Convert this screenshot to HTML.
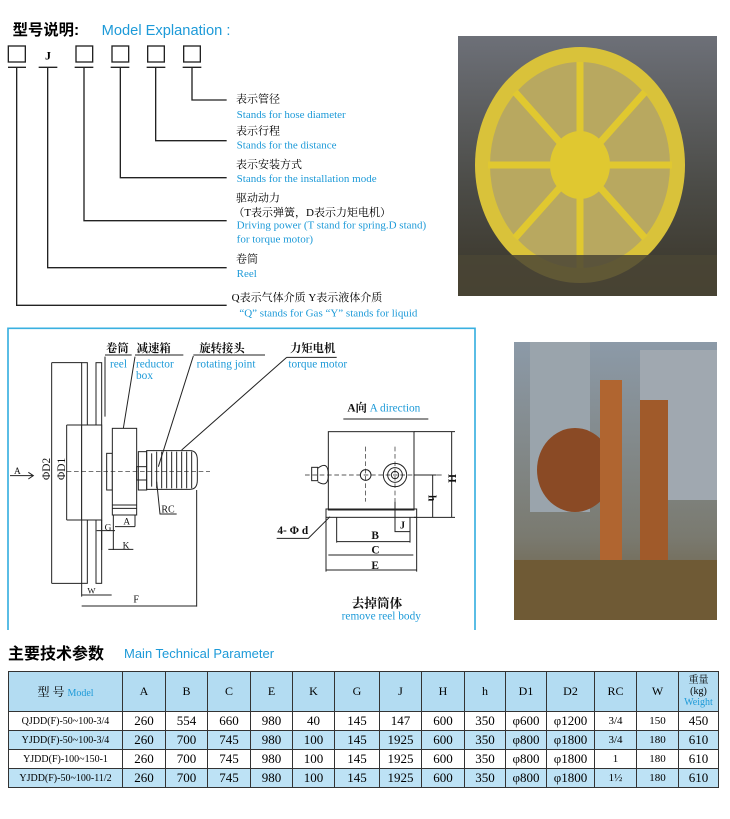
<!DOCTYPE html>
<html><head><meta charset="utf-8"><style>
body{margin:0;width:730px;height:819px;background:#fff;position:relative;overflow:hidden;font-family:"Liberation Serif","Noto Serif CJK SC",serif}
svg{position:absolute;left:0;top:0}
table{position:absolute;left:8px;top:671px;border-collapse:collapse;table-layout:fixed;font-family:"Liberation Serif","Noto Serif CJK SC",serif;font-size:13px}
td{border:1.5px solid #333;text-align:center;padding:0;height:18px;white-space:nowrap}
tr.h td{height:39px;background:#b3dcf2;font-size:12px}
tr.b td{background:#bde2f5}
.bl{color:#1d9ad8}
</style></head><body>
<svg width="730" height="819">
<defs>
<linearGradient id="g1" x1="0" y1="0" x2="0" y2="1"><stop offset="0" stop-color="#6d7078"/><stop offset=".6" stop-color="#4a4a45"/><stop offset="1" stop-color="#3a3528"/></linearGradient>
<linearGradient id="g2" x1="0" y1="0" x2="0" y2="1"><stop offset="0" stop-color="#8c9aa8"/><stop offset=".7" stop-color="#7a7a70"/><stop offset="1" stop-color="#6a5a3a"/></linearGradient>
</defs>
<rect x="458" y="36" width="259" height="260" fill="url(#g1)"/>
<ellipse cx="580" cy="165" rx="105" ry="118" fill="#d9c23a"/>
<ellipse cx="580" cy="165" rx="90" ry="103" fill="#b8a860"/>
<g stroke="#e0c830" stroke-width="7"><path d="M580 62V268M488 165H672M515 92L645 238M645 92L515 238"/></g>
<ellipse cx="580" cy="165" rx="30" ry="34" fill="#e0c830"/>
<rect x="458" y="255" width="259" height="41" fill="#4a4535" opacity=".85"/>
<rect x="514" y="342" width="203" height="278" fill="url(#g2)"/>
<rect x="530" y="342" width="60" height="170" fill="#9aa4ac"/>
<rect x="640" y="350" width="77" height="150" fill="#a0a8b0"/>
<ellipse cx="575" cy="470" rx="38" ry="42" fill="#8a4a25"/>
<rect x="600" y="380" width="22" height="220" fill="#b06530"/>
<rect x="640" y="400" width="28" height="160" fill="#a05a2a"/>
<rect x="514" y="560" width="203" height="60" fill="#6f5a35"/>

<svg x="0" y="10" width="460" height="320" viewBox="0 0 1380 960">
<text x="38" y="75" font-size="46" font-weight="bold" font-family="Liberation Sans,Noto Sans CJK SC,sans-serif">型号说明:</text>
<text x="305" y="75" font-size="44" fill="#1d9ad8" font-family="Liberation Sans,sans-serif">Model Explanation :</text>
<g fill="none" stroke="#222" stroke-width="4">
<rect x="25" y="108" width="51" height="48"/><rect x="228" y="108" width="50" height="48"/><rect x="336" y="108" width="50" height="48"/><rect x="443" y="108" width="50" height="48"/><rect x="551" y="108" width="50" height="48"/>
<path d="M24 172H78M116 172H172M224 172H280M332 172H388M440 172H496M548 172H604"/>
<path d="M50 172V886H680M143 172V773H680M252 172V632H680M361 172V503H680M467 172V392H680M576 172V270H680"/>
</g>
<text x="135" y="148" font-size="36" font-weight="bold">J</text>
<g font-size="33">
<text x="708" y="277">表示管径</text>
<text x="710" y="324" fill="#1d9ad8">Stands for hose diameter</text>
<text x="708" y="374">表示行程</text>
<text x="710" y="415" fill="#1d9ad8">Stands for the distance</text>
<text x="708" y="474">表示安装方式</text>
<text x="710" y="516" fill="#1d9ad8">Stands for the installation mode</text>
<text x="708" y="574">驱动动力</text>
<text x="700" y="618">（T表示弹簧，D表示力矩电机）</text>
<text x="710" y="656" fill="#1d9ad8">Driving power (T stand for spring.D stand)</text>
<text x="710" y="698" fill="#1d9ad8">for torque motor)</text>
<text x="708" y="757">卷筒</text>
<text x="710" y="801" fill="#1d9ad8">Reel</text>
<text x="695" y="873">Q表示气体介质  Y表示液体介质</text>
<text x="718" y="919" fill="#1d9ad8">“Q”  stands for Gas  “Y”  stands for liquid</text>
</g>
</svg>

<svg x="0" y="320" width="500" height="310" viewBox="0 0 1500 930">
<path d="M24 960V25H1425V960" fill="none" stroke="#3ab0e0" stroke-width="5"/>
<g fill="none" stroke="#222" stroke-width="3">
<rect x="245" y="128" width="17" height="662"/><rect x="288" y="128" width="17" height="662"/>
<rect x="245" y="315" width="60" height="285" fill="#fff"/>
<path d="M155 128H245M155 790H245M155 128V790M200 315H245M200 600H245M200 315V600"/>
<rect x="320" y="400" width="17" height="110"/>
<rect x="337" y="325" width="73" height="260" fill="#fff"/>
<path d="M337 555H410M337 565H410"/>
<rect x="410" y="440" width="75" height="40"/>
<path d="M440 392H570Q592 392 592 420V480Q592 508 570 508H440Z" fill="#fff"/>
<path d="M455 400V500M470 395V505M485 395V505M500 395V505M515 395V505M530 395V505M545 395V505M560 395V505M575 395V505"/>
<rect x="415" y="395" width="25" height="115"/>
<path d="M30 467H98M85 457L100 467L85 477"/>
<path d="M315 110V290M315 105H395M405 105H550M405 110L370 325M580 105H795M580 108L475 440M860 112H1010M860 112L545 390M470 485L480 582H530"/>
<path d="M305 600V690M340 585V690M290 632H345M345 620H405M405 585V620M325 688H400M245 790V830M245 825H335M245 858H590M590 510V860"/>
<path d="M1030 297H1285"/>
<rect x="985" y="335" width="257" height="235"/>
<rect x="978" y="567" width="272" height="25"/>
<path d="M978 592V755M1250 592V755M1010 592V668M1230 592V668M1010 665H1230M985 705H1240M978 750H1250"/>
<rect x="935" y="442" width="18" height="40"/><path d="M953 445Q985 420 985 465Q985 505 953 485"/>
<circle cx="1097" cy="465" r="16"/><circle cx="1185" cy="465" r="35"/><circle cx="1185" cy="465" r="22"/><circle cx="1185" cy="465" r="11"/>
<path d="M1242 335H1365M1242 592H1365M1355 335V592M1242 465H1310M1298 465V592M1185 545V635H1230M830 655H925L990 590"/>
</g>
<g stroke="#222" stroke-width="2" stroke-dasharray="14,8" fill="none">
<path d="M200 455H630M915 465H1330M1097 380V545M1185 380V545"/>
</g>
<g font-size="34" fill="#111">
<text x="42" y="462" font-size="28">A</text>
<text x="150" y="480" transform="rotate(-90 150 480)">ΦD2</text>
<text x="195" y="480" transform="rotate(-90 195 480)">ΦD1</text>
<text x="318" y="96" font-weight="bold">卷筒</text>
<text x="410" y="96" font-weight="bold">减速箱</text>
<text x="598" y="96" font-weight="bold">旋转接头</text>
<text x="870" y="96" font-weight="bold">力矩电机</text>
<text x="330" y="142" fill="#1d9ad8">reel</text>
<text x="408" y="142" fill="#1d9ad8">reductor</text>
<text x="408" y="177" fill="#1d9ad8">box</text>
<text x="590" y="142" fill="#1d9ad8">rotating  joint</text>
<text x="865" y="142" fill="#1d9ad8">torque  motor</text>
<text x="484" y="577" font-size="30">RC</text>
<text x="314" y="632" font-size="28">G</text>
<text x="370" y="614" font-size="28">A</text>
<text x="368" y="685" font-size="28">K</text>
<text x="262" y="820" font-size="26">W</text>
<text x="400" y="848" font-size="30">F</text>
<text x="1042" y="275" font-weight="bold">A向 <tspan fill="#1d9ad8" font-weight="normal">A direction</tspan></text>
<text x="1345" y="462" transform="rotate(90 1345 462)" font-weight="bold">H</text>
<text x="1285" y="525" transform="rotate(90 1285 525)" font-weight="bold">h</text>
<text x="1200" y="625" font-size="30" font-weight="bold">J</text>
<text x="1114" y="657" font-weight="bold">B</text>
<text x="1114" y="700" font-weight="bold">C</text>
<text x="1114" y="747" font-weight="bold">E</text>
<text x="832" y="642" font-weight="bold">4- Φ d</text>
<text x="1055" y="862" font-size="38" font-weight="bold">去掉筒体</text>
<text x="1025" y="898" fill="#1d9ad8">remove reel body</text>
</g>
</svg>

<text x="8" y="659" font-size="16" font-weight="bold" font-family="Liberation Sans,Noto Sans CJK SC,sans-serif">主要技术参数</text>
<text x="124" y="658" font-size="13" fill="#1d9ad8" font-family="Liberation Sans,sans-serif">Main Technical Parameter</text>
</svg>

<table>
<colgroup><col style="width:114px"><col style="width:43px"><col style="width:42px"><col style="width:43px"><col style="width:42px"><col style="width:42px"><col style="width:45px"><col style="width:42px"><col style="width:43px"><col style="width:41px"><col style="width:41px"><col style="width:48px"><col style="width:42px"><col style="width:42px"><col style="width:40px"></colgroup>
<tr class="h"><td>型 号 <span class="bl" style="font-size:10px">Model</span></td><td>A</td><td>B</td><td>C</td><td>E</td><td>K</td><td>G</td><td>J</td><td>H</td><td>h</td><td>D1</td><td>D2</td><td>RC</td><td>W</td><td style="font-size:10px;line-height:11px">重量<br>(kg)<br><span class="bl">Weight</span></td></tr>
<tr><td style="font-size:10px">QJDD(F)-50~100-3/4</td><td>260</td><td>554</td><td>660</td><td>980</td><td>40</td><td>145</td><td>147</td><td>600</td><td>350</td><td>φ600</td><td>φ1200</td><td style="font-size:11px">3/4</td><td style="font-size:11px">150</td><td>450</td></tr>
<tr class="b"><td style="font-size:10px">YJDD(F)-50~100-3/4</td><td>260</td><td>700</td><td>745</td><td>980</td><td>100</td><td>145</td><td>1925</td><td>600</td><td>350</td><td>φ800</td><td>φ1800</td><td style="font-size:11px">3/4</td><td style="font-size:11px">180</td><td>610</td></tr>
<tr><td style="font-size:10px">YJDD(F)-100~150-1</td><td>260</td><td>700</td><td>745</td><td>980</td><td>100</td><td>145</td><td>1925</td><td>600</td><td>350</td><td>φ800</td><td>φ1800</td><td style="font-size:11px">1</td><td style="font-size:11px">180</td><td>610</td></tr>
<tr class="b"><td style="font-size:10px">YJDD(F)-50~100-11/2</td><td>260</td><td>700</td><td>745</td><td>980</td><td>100</td><td>145</td><td>1925</td><td>600</td><td>350</td><td>φ800</td><td>φ1800</td><td style="font-size:11px">1½</td><td style="font-size:11px">180</td><td>610</td></tr>
</table>
</body></html>
